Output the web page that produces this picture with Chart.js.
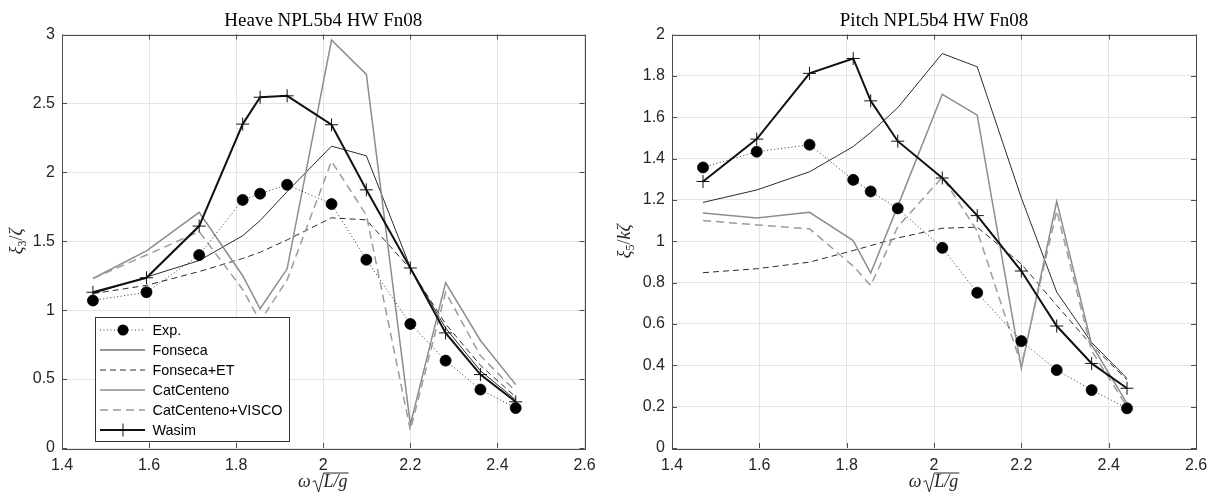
<!DOCTYPE html>
<html>
<head>
<meta charset="utf-8">
<script src="https://cdn.jsdelivr.net/npm/chart.js@4.4.0/dist/chart.umd.min.js"></script>
<style>
  html, body { margin: 0; padding: 0; background: #fff; }
  #wrap { position: relative; width: 1216px; height: 502px; }
  .panel { position: absolute; top: 0; width: 608px; height: 502px; }
</style>
</head>
<body>
<div id="wrap">
  <div class="panel" style="left:0"><canvas id="heaveChart" width="608" height="502"></canvas></div>
  <div class="panel" style="left:608px"><canvas id="pitchChart" width="608" height="502"></canvas></div>
</div>
<script>
// nondimensional frequency, same for every series
const omega = [1.471, 1.594, 1.715, 1.815, 1.855, 1.917, 2.019, 2.099, 2.200, 2.281, 2.361, 2.442];

const seriesNames = ['Exp.', 'Fonseca', 'Fonseca+ET', 'CatCenteno', 'CatCenteno+VISCO', 'Wasim'];

// heave xi3/zeta
const heaveExp      = [1.07, 1.13, 1.40, 1.80, 1.845, 1.91, 1.77, 1.366, 0.90, 0.634, 0.424, 0.29];
const heaveFonseca  = [1.12, 1.24, 1.36, 1.54, 1.65, 1.86, 2.19, 2.12, 1.31, 0.87, 0.56, 0.35];
const heaveFonET    = [1.12, 1.18, 1.28, 1.375, 1.42, 1.51, 1.67, 1.655, 1.30, 0.90, 0.60, 0.37];
const heaveCat      = [1.23, 1.43, 1.71, 1.25, 1.01, 1.30, 2.96, 2.71, 0.17, 1.20, 0.78, 0.46];
const heaveCatVisco = [1.23, 1.40, 1.57, 1.15, 0.92, 1.22, 2.08, 1.69, 0.13, 1.13, 0.67, 0.41];
const heaveWasim    = [1.13, 1.235, 1.61, 2.35, 2.545, 2.555, 2.345, 1.873, 1.306, 0.835, 0.533, 0.335];

// pitch xi5/k zeta
const pitchExp      = [1.357, 1.433, 1.467, 1.297, 1.241, 1.159, 0.968, 0.751, 0.517, 0.377, 0.28, 0.192];
const pitchFonseca  = [1.188, 1.248, 1.336, 1.458, 1.526, 1.646, 1.908, 1.844, 1.21, 0.754, 0.51, 0.337];
const pitchFonET    = [0.848, 0.867, 0.899, 0.955, 0.979, 1.016, 1.063, 1.068, 0.89, 0.69, 0.497, 0.33];
const pitchCat      = [1.137, 1.113, 1.14, 1.003, 0.846, 1.17, 1.711, 1.61, 0.385, 1.193, 0.50, 0.216];
const pitchCatVisco = [1.10, 1.079, 1.06, 0.88, 0.786, 1.07, 1.31, 1.05, 0.40, 1.148, 0.47, 0.20];
const pitchWasim    = [1.289, 1.494, 1.812, 1.884, 1.679, 1.484, 1.306, 1.124, 0.856, 0.59, 0.409, 0.289];

const xTicks = [1.4, 1.6, 1.8, 2.0, 2.2, 2.4, 2.6];
const heaveTicks = [0, 0.5, 1, 1.5, 2, 2.5, 3];
const pitchTicks = [0, 0.2, 0.4, 0.6, 0.8, 1, 1.2, 1.4, 1.6, 1.8, 2];

const SANS = '"Liberation Sans", Arial, sans-serif';
const SERIF = '"Liberation Serif", "Times New Roman", serif';

function pts(ys) {
  return ys.map((y, i) => ({ x: omega[i], y: y }));
}

function makeDatasets(exp, fon, fonEt, cat, catVisco, wasim) {
  const base = { fill: false, tension: 0, pointRadius: 0, borderJoinStyle: 'miter' };
  return [
    Object.assign({}, base, {
      label: seriesNames[0], data: pts(exp), order: 0,
      borderColor: '#000', borderWidth: 0.8, borderDash: [1, 2.5],
      pointRadius: 5.5, pointStyle: 'circle', pointBackgroundColor: '#000', pointBorderColor: '#000'
    }),
    Object.assign({}, base, {
      label: seriesNames[1], data: pts(fon), order: 5,
      borderColor: '#2b2b2b', borderWidth: 1
    }),
    Object.assign({}, base, {
      label: seriesNames[2], data: pts(fonEt), order: 4,
      borderColor: '#2b2b2b', borderWidth: 1, borderDash: [6, 4]
    }),
    Object.assign({}, base, {
      label: seriesNames[3], data: pts(cat), order: 3,
      borderColor: '#8c8c8c', borderWidth: 1.5
    }),
    Object.assign({}, base, {
      label: seriesNames[4], data: pts(catVisco), order: 2,
      borderColor: '#9c9c9c', borderWidth: 1.5, borderDash: [8, 5]
    }),
    Object.assign({}, base, {
      label: seriesNames[5], data: pts(wasim), order: 1,
      borderColor: '#111', borderWidth: 2,
      pointRadius: 6.5, pointStyle: 'cross', pointBorderWidth: 1, pointBorderColor: '#111'
    })
  ];
}

function drawMarker(ctx, ds, x, y) {
  if (!ds.pointRadius) return;
  ctx.save();
  ctx.setLineDash([]);
  if (ds.pointStyle === 'circle') {
    ctx.fillStyle = ds.pointBackgroundColor;
    ctx.beginPath();
    ctx.arc(x, y, ds.pointRadius, 0, Math.PI * 2);
    ctx.fill();
  } else {
    ctx.strokeStyle = ds.pointBorderColor;
    ctx.lineWidth = 1;
    ctx.beginPath();
    ctx.moveTo(x - ds.pointRadius, y);
    ctx.lineTo(x + ds.pointRadius, y);
    ctx.moveTo(x, y - ds.pointRadius);
    ctx.lineTo(x, y + ds.pointRadius);
    ctx.stroke();
  }
  ctx.restore();
}

// y label pieces: [text, italic, size, baseline shift]
function drawYTitle(ctx, cx, cy, parts) {
  ctx.save();
  ctx.translate(cx, cy);
  ctx.rotate(-Math.PI / 2);
  ctx.fillStyle = '#262626';
  ctx.textBaseline = 'alphabetic';
  let total = 0;
  parts.forEach(p => {
    ctx.font = (p[1] ? 'italic ' : '') + p[2] + 'px ' + SERIF;
    total += ctx.measureText(p[0]).width;
  });
  let x = -total / 2;
  parts.forEach(p => {
    ctx.font = (p[1] ? 'italic ' : '') + p[2] + 'px ' + SERIF;
    ctx.fillText(p[0], x, 6 + p[3]);
    x += ctx.measureText(p[0]).width;
  });
  ctx.restore();
}

function drawXTitle(ctx, cx, baseline) {
  const fs = 18;
  ctx.save();
  ctx.fillStyle = '#262626';
  ctx.strokeStyle = '#262626';
  ctx.lineWidth = 1;
  ctx.font = 'italic ' + fs + 'px ' + SERIF;
  const wOm = ctx.measureText('ω').width;
  const wLg = ctx.measureText('L/g').width;
  const radW = 11;
  const total = wOm + 2 + radW + wLg + 1;
  let x = cx - total / 2;
  ctx.fillText('ω', x, baseline);
  x += wOm + 2;
  const top = baseline - 14;
  ctx.beginPath();
  ctx.moveTo(x, baseline - 5);
  ctx.lineTo(x + 2.5, baseline - 6.5);
  ctx.lineTo(x + 6, baseline + 5);
  ctx.lineTo(x + radW, top);
  ctx.lineTo(x + radW + wLg + 1, top);
  ctx.stroke();
  ctx.fillText('L/g', x + radW, baseline);
  ctx.restore();
}

function matlabFrame(title, yParts, showLegend) {
  return {
    id: 'matlabFrame',
    afterDatasetsDraw(chart) {
      const ctx = chart.ctx;
      const a = chart.chartArea;
      const xs = chart.scales.x, ys = chart.scales.y;
      ctx.save();
      ctx.strokeStyle = '#4d4d4d';
      ctx.lineWidth = 1;
      ctx.strokeRect(Math.round(a.left) + 0.5, Math.round(a.top) + 0.5,
                     Math.round(a.right - a.left), Math.round(a.bottom - a.top));
      // inward tick marks on all four sides
      const tl = 5;
      ctx.beginPath();
      xs.ticks.forEach(t => {
        const px = Math.round(xs.getPixelForValue(t.value)) + 0.5;
        ctx.moveTo(px, a.bottom); ctx.lineTo(px, a.bottom - tl);
        ctx.moveTo(px, a.top); ctx.lineTo(px, a.top + tl);
      });
      ys.ticks.forEach(t => {
        const py = Math.round(ys.getPixelForValue(t.value)) + 0.5;
        ctx.moveTo(a.left, py); ctx.lineTo(a.left + tl, py);
        ctx.moveTo(a.right, py); ctx.lineTo(a.right - tl, py);
      });
      ctx.stroke();
      ctx.restore();
    },
    afterDraw(chart) {
      const ctx = chart.ctx;
      const a = chart.chartArea;
      const cx = (a.left + a.right) / 2;
      ctx.save();
      ctx.fillStyle = '#000';
      ctx.font = '19px ' + SERIF;
      ctx.textAlign = 'center';
      ctx.textBaseline = 'alphabetic';
      ctx.fillText(title, cx, 26);
      ctx.restore();

      drawYTitle(ctx, 16, (a.top + a.bottom) / 2, yParts);
      drawXTitle(ctx, cx, 487);

      if (showLegend) {
        const bx = 95.5, by = 317.5, bw = 194, bh = 124;
        ctx.save();
        ctx.fillStyle = '#fff';
        ctx.fillRect(bx, by, bw, bh);
        ctx.strokeStyle = '#333';
        ctx.lineWidth = 1;
        ctx.strokeRect(bx, by, bw, bh);
        ctx.font = '14.4px ' + SANS;
        ctx.textBaseline = 'middle';
        chart.data.datasets.forEach((ds, i) => {
          const y = 330 + i * 20;
          ctx.save();
          ctx.strokeStyle = ds.borderColor;
          ctx.lineWidth = ds.borderWidth;
          ctx.setLineDash(ds.borderDash || []);
          ctx.beginPath();
          ctx.moveTo(100, y);
          ctx.lineTo(145, y);
          ctx.stroke();
          ctx.restore();
          drawMarker(ctx, ds, 123, y);
          ctx.fillStyle = '#000';
          ctx.fillText(ds.label, 152.5, y + 1);
        });
        ctx.restore();
      }
    }
  };
}

function buildChart(canvasId, datasets, yTicks, yMax, yWidth, padRight, title, yParts, showLegend) {
  const ctx = document.getElementById(canvasId).getContext('2d');
  return new Chart(ctx, {
    type: 'line',
    data: { datasets: datasets },
    options: {
      responsive: false,
      animation: false,
      events: [],
      layout: { padding: { top: 34.5, right: padRight, left: 0, bottom: 0 } },
      plugins: { legend: { display: false }, tooltip: { enabled: false }, title: { display: false } },
      scales: {
        x: {
          type: 'linear',
          min: xTicks[0],
          max: xTicks[xTicks.length - 1],
          afterBuildTicks: scale => { scale.ticks = xTicks.map(v => ({ value: v })); },
          afterFit: scale => { scale.height = 54; },
          grid: { color: '#e4e4e4', drawTicks: false },
          border: { display: false },
          ticks: {
            padding: 8,
            color: '#262626',
            font: { family: SANS, size: 16 },
            maxRotation: 0,
            callback: v => String(+v.toFixed(2))
          }
        },
        y: {
          min: 0,
          max: yMax,
          afterBuildTicks: scale => { scale.ticks = yTicks.map(v => ({ value: v })); },
          afterFit: scale => { scale.width = yWidth; },
          grid: { color: '#e4e4e4', drawTicks: false },
          border: { display: false },
          ticks: {
            padding: 7,
            color: '#262626',
            font: { family: SANS, size: 16 },
            callback: v => String(+v.toFixed(2))
          }
        }
      }
    },
    plugins: [matlabFrame(title, yParts, showLegend)]
  });
}

buildChart('heaveChart',
  makeDatasets(heaveExp, heaveFonseca, heaveFonET, heaveCat, heaveCatVisco, heaveWasim),
  heaveTicks, 3, 62, 23.5, 'Heave NPL5b4 HW Fn08',
  [['ξ', true, 18, 0], ['3', false, 12, 4], ['/', false, 18, 0], ['ζ', true, 18, 0]], true);

buildChart('pitchChart',
  makeDatasets(pitchExp, pitchFonseca, pitchFonET, pitchCat, pitchCatVisco, pitchWasim),
  pitchTicks, 2, 64, 20, 'Pitch NPL5b4 HW Fn08',
  [['ξ', true, 18, 0], ['5', false, 12, 4], ['/', false, 18, 0], ['k', true, 18, 0], ['ζ', true, 18, 0]], false);
</script>
</body>
</html>
